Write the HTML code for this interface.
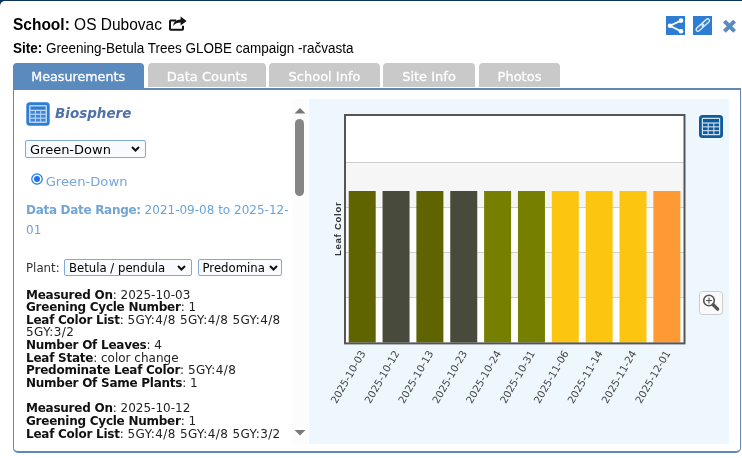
<!DOCTYPE html>
<html><head><meta charset="utf-8">
<style>
html,body{margin:0;padding:0;background:#fff;}
body{width:742px;height:458px;position:relative;overflow:hidden;font-family:"DejaVu Sans","Liberation Sans",sans-serif;color:#222;}
.abs{position:absolute;}
#frameb{position:absolute;left:0;top:0;width:742px;height:8px;background:#0d3558;}
#frame{position:absolute;left:0;top:1px;width:742px;height:20px;background:#fff;border-radius:5px 0 0 0;}
#school{position:absolute;left:13px;top:14.6px;font:16.8px/20px "Liberation Sans",sans-serif;color:#000;white-space:nowrap;transform:scaleX(0.923);transform-origin:0 0;}
#site{position:absolute;left:13px;top:39.8px;font:14px/16px "Liberation Sans",sans-serif;color:#000;white-space:nowrap;transform:scaleX(0.964);transform-origin:0 0;}
.tab{position:absolute;top:63px;height:24px;background:#c9c9c9;color:#fff;border-radius:4px 4px 0 0;font-size:13px;line-height:27px;text-align:center;white-space:nowrap;-webkit-text-stroke:0.3px #fff;}
.tab.act{background:#5b8abf;height:26px;font-size:12.7px;}
#panel{position:absolute;left:12.5px;top:88px;width:728.3px;height:365px;box-sizing:border-box;border:1.5px solid #6288b6;border-top-width:2px;border-bottom-width:2px;border-radius:0 0 5px 5px;background:#fff;}
#chart{position:absolute;left:309px;top:99px;width:420.4px;height:345px;background:#eef6fe;}
#left{position:absolute;left:25px;top:99px;width:283px;height:345px;overflow:hidden;}
#clip{position:absolute;left:0;top:0;width:266px;height:342px;overflow:hidden;}
.sel{position:absolute;box-sizing:border-box;border:1px solid #7fa9db;background:#f8fafd;border-radius:2px;font-size:13px;color:#000;white-space:nowrap;overflow:hidden;}
.meas{position:absolute;left:1px;font-size:12px;line-height:12.65px;color:#222;white-space:nowrap;}
.meas b{color:#111;letter-spacing:-0.25px;}
.meas i{font-style:normal;letter-spacing:0.4px;}
</style></head><body>
<div id="frameb"></div><div id="frame"></div>
<div id="school"><b>School:</b> OS Dubovac</div>
<svg class="abs" style="left:168px;top:15.3px" width="20" height="17" viewBox="0 0 20 17"><path d="M8.2 5.4H2.8Q2 5.4 2 6.2V14Q2 14.8 2.8 14.8H14.2Q15 14.8 15 14V10.8" fill="none" stroke="#111" stroke-width="2"/><path d="M5.2 11C5.4 6.6 8.6 4.6 12.6 4.5V1.4L18.6 6L12.6 10.6V7.4C9.4 7.4 7.2 8.2 5.2 11Z" fill="#111"/></svg>
<div id="site"><b>Site:</b> Greening-Betula Trees GLOBE campaign -račvasta</div>

<svg class="abs" style="left:666px;top:16px" width="19" height="19.4" viewBox="0 0 19 19.4"><rect width="19" height="19.4" fill="#2f7dd3"/><path d="M15 4.6L4 9.8L15 15.2" fill="none" stroke="#fff" stroke-width="1.8"/><circle cx="15" cy="4.6" r="2.3" fill="#fff"/><circle cx="4" cy="9.8" r="2.3" fill="#fff"/><circle cx="15" cy="15.2" r="2.3" fill="#fff"/></svg>
<svg class="abs" style="left:693px;top:16px" width="19" height="19.4" viewBox="0 0 19 19.4"><rect width="19" height="19.4" fill="#2f7dd3"/><g transform="translate(0.3,-0.4) rotate(-42 9.5 9.5)" fill="none" stroke="#d9e9fb" stroke-width="1.4"><rect x="1.15" y="7.7" width="9.2" height="3.6" rx="1.8"/><rect x="8.65" y="7.7" width="9.2" height="3.6" rx="1.8"/></g></svg>
<svg class="abs" style="left:722px;top:19px" width="15" height="14" viewBox="0 0 15 14"><path d="M2.4 2.1L12.6 12.3M12.6 2.1L2.4 12.3" stroke="#5b8abf" stroke-width="4" fill="none"/></svg>

<div id="panel"></div>
<div class="tab act" style="left:12.5px;width:131.4px;">Measurements</div>
<div class="tab" style="left:148px;width:118px;">Data Counts</div>
<div class="tab" style="left:269px;width:111px;">School Info</div>
<div class="tab" style="left:383px;width:92px;">Site Info</div>
<div class="tab" style="left:479px;width:81px;">Photos</div>

<div id="left">
 <svg class="abs" style="left:0.7px;top:3px" width="24" height="24" viewBox="0 0 24 24"><rect x="0.3" y="0.3" width="23.4" height="23.4" rx="3.5" fill="#2f7dd3"/><rect x="3" y="3" width="18" height="18" rx="1.2" fill="#b9d5f4"/><rect x="4.5" y="4.5" width="15" height="3.2" fill="#2f7dd3"/><g fill="#3b84d6"><rect x="4.5" y="9" width="4.3" height="2.7"/><rect x="9.9" y="9" width="4.3" height="2.7"/><rect x="15.2" y="9" width="4.3" height="2.7"/><rect x="4.5" y="12.9" width="4.3" height="2.7"/><rect x="9.9" y="12.9" width="4.3" height="2.7"/><rect x="15.2" y="12.9" width="4.3" height="2.7"/><rect x="4.5" y="16.8" width="4.3" height="2.7"/><rect x="9.9" y="16.8" width="4.3" height="2.7"/><rect x="15.2" y="16.8" width="4.3" height="2.7"/></g></svg>
 <div class="abs" style="left:30px;top:4px;font-size:14.5px;line-height:20px;font-weight:bold;font-style:italic;color:#5071a8;transform:scaleX(0.93);transform-origin:0 0;">Biosphere</div>
 <div class="sel" style="left:0;top:40.5px;width:121px;height:18.5px;line-height:17px;padding-left:4px;">Green-Down<svg class="abs" style="right:5px;top:5.5px" width="9" height="6" viewBox="0 0 9 6"><path d="M1 1L4.5 4.5L8 1" fill="none" stroke="#111" stroke-width="2"/></svg></div>
 <svg class="abs" style="left:5.7px;top:74.3px" width="12" height="12" viewBox="0 0 12 12"><circle cx="6" cy="6" r="5.2" fill="#fff" stroke="#1a73e8" stroke-width="1.2"/><circle cx="6" cy="6" r="3" fill="#1a73e8"/></svg>
 <div class="abs" style="left:20.7px;top:75.2px;font-size:13.15px;line-height:16px;color:#78a5da;">Green-Down</div>
 <div class="abs" style="left:1px;top:101px;font-size:12px;line-height:20px;color:#6aa3dc;width:270px;"><b style="color:#72a5d4;letter-spacing:-0.3px">Data Date Range:</b> 2021-09-08 to 2025-12-01</div>
 <div class="abs" style="left:1px;top:161.3px;font-size:11.8px;line-height:16px;color:#333;">Plant:</div>
 <div class="sel" style="left:39px;top:159.5px;width:128px;height:17.5px;line-height:17px;padding-left:4px;font-size:11.7px;">Betula / pendula<svg class="abs" style="right:5px;top:5.5px" width="9" height="6" viewBox="0 0 9 6"><path d="M1 1L4.5 4.5L8 1" fill="none" stroke="#111" stroke-width="2"/></svg></div>
 <div class="sel" style="left:172.5px;top:159.5px;width:84px;height:17.5px;line-height:17px;padding-left:4px;font-size:11.7px;">Predomina<svg class="abs" style="right:3px;top:5.5px" width="9" height="6" viewBox="0 0 9 6"><path d="M1 1L4.5 4.5L8 1" fill="none" stroke="#111" stroke-width="2"/></svg></div>
 <div id="clip"><div class="meas" style="top:189.5px;"><b>Measured On</b>: 2025-10-03<br><b>Greening Cycle Number</b>: 1<br><b>Leaf Color List</b>: <i>5GY:4/8 5GY:4/8 5GY:4/8</i><br><i>5GY:3/2</i><br><b>Number Of Leaves</b>: 4<br><b>Leaf State</b>: color change<br><b>Predominate Leaf Color</b>: <i>5GY:4/8</i><br><b>Number Of Same Plants</b>: 1<br><br><b>Measured On</b>: 2025-10-12<br><b>Greening Cycle Number</b>: 1<br><b>Leaf Color List</b>: <i>5GY:4/8 5GY:4/8 5GY:3/2</i><br><i>5GY:3/2</i></div></div>
 <!-- scrollbar -->
 <div class="abs" style="left:267px;top:0;width:16px;height:345px;background:#fcfcfc;"></div>
 <svg class="abs" style="left:269px;top:7.5px" width="12" height="8" viewBox="0 0 12 8"><path d="M0.5 6.5L6 1L11.5 6.5Z" fill="#777"/></svg>
 <div class="abs" style="left:270px;top:20px;width:9px;height:77px;border-radius:4.5px;background:#858585;"></div>
 <svg class="abs" style="left:269px;top:329.5px" width="12" height="8" viewBox="0 0 12 8"><path d="M0.5 1L6 6.5L11.5 1Z" fill="#7a7a7a"/></svg>
</div>

<div id="chart">
<svg width="420" height="344" viewBox="0 0 420 344" style="position:absolute;left:0;top:0">
 <rect x="36" y="16" width="339" height="228" fill="#fff"/>
 <rect x="36" y="63" width="339" height="45" fill="#f6f6f6"/>
 <rect x="36" y="153" width="339" height="45" fill="#f6f6f6"/>
 <g stroke="#cfcfcf" stroke-width="1"><path d="M36 63.5H375M36 108.5H375M36 153.5H375M36 198.5H375"/></g>
 <g id="bars"><rect x="39.70" y="92" width="27" height="151.5" fill="#5f6400"/><rect x="73.55" y="92" width="27" height="151.5" fill="#484b3c"/><rect x="107.40" y="92" width="27" height="151.5" fill="#5f6400"/><rect x="141.25" y="92" width="27" height="151.5" fill="#484b3c"/><rect x="175.10" y="92" width="27" height="151.5" fill="#767f00"/><rect x="208.95" y="92" width="27" height="151.5" fill="#767f00"/><rect x="242.80" y="92" width="27" height="151.5" fill="#fcc50f"/><rect x="276.65" y="92" width="27" height="151.5" fill="#fcc50f"/><rect x="310.50" y="92" width="27" height="151.5" fill="#fcc50f"/><rect x="344.35" y="92" width="27" height="151.5" fill="#ff9933"/></g>
 <rect x="36" y="16" width="339.5" height="228.4" fill="none" stroke="#555" stroke-width="2"/>
 <text transform="translate(32,157) rotate(-90)" font-family="Liberation Sans, sans-serif" font-size="9.5" font-weight="bold" letter-spacing="0.75" fill="#333">Leaf Color</text>
 <g font-family="DejaVu Sans, sans-serif" font-size="10.2" fill="#444" id="xl"><text text-anchor="end" transform="translate(57.00,254.0) rotate(-60)">2025-10-03</text><text text-anchor="end" transform="translate(90.85,254.0) rotate(-60)">2025-10-12</text><text text-anchor="end" transform="translate(124.70,254.0) rotate(-60)">2025-10-13</text><text text-anchor="end" transform="translate(158.55,254.0) rotate(-60)">2025-10-23</text><text text-anchor="end" transform="translate(192.40,254.0) rotate(-60)">2025-10-24</text><text text-anchor="end" transform="translate(226.25,254.0) rotate(-60)">2025-10-31</text><text text-anchor="end" transform="translate(260.10,254.0) rotate(-60)">2025-11-06</text><text text-anchor="end" transform="translate(293.95,254.0) rotate(-60)">2025-11-14</text><text text-anchor="end" transform="translate(327.80,254.0) rotate(-60)">2025-11-24</text><text text-anchor="end" transform="translate(361.65,254.0) rotate(-60)">2025-12-01</text></g>
</svg>
 <svg class="abs" style="left:390.2px;top:16.1px" width="24" height="23" viewBox="0 0 24 23"><rect x="0" y="0" width="24" height="23" rx="3.5" fill="#0f5c9c"/><rect x="2.8" y="2.8" width="18.4" height="17.4" rx="1" fill="#cfe0f0"/><rect x="4" y="4" width="16" height="3.4" fill="#0f5c9c"/><g fill="#0f5c9c"><rect x="4" y="8.6" width="4.6" height="2.7"/><rect x="9.7" y="8.6" width="4.6" height="2.7"/><rect x="15.4" y="8.6" width="4.6" height="2.7"/><rect x="4" y="12.4" width="4.6" height="2.7"/><rect x="9.7" y="12.4" width="4.6" height="2.7"/><rect x="15.4" y="12.4" width="4.6" height="2.7"/><rect x="4" y="16.2" width="4.6" height="2.8"/><rect x="9.7" y="16.2" width="4.6" height="2.8"/><rect x="15.4" y="16.2" width="4.6" height="2.8"/></g></svg>
 <svg class="abs" style="left:390px;top:192px" width="24" height="24" viewBox="0 0 24 24"><rect x="0.5" y="0.5" width="23" height="23" rx="3" fill="#fafafa" stroke="#ccc"/><circle cx="10" cy="9.5" r="5.3" fill="none" stroke="#555" stroke-width="1.6"/><path d="M10 6.5V12.5M7 9.5H13" stroke="#555" stroke-width="1.1"/><path d="M14.2 13.7L18.6 18.1" stroke="#555" stroke-width="3.4" stroke-linecap="round"/></svg>
</div>
</body></html>
